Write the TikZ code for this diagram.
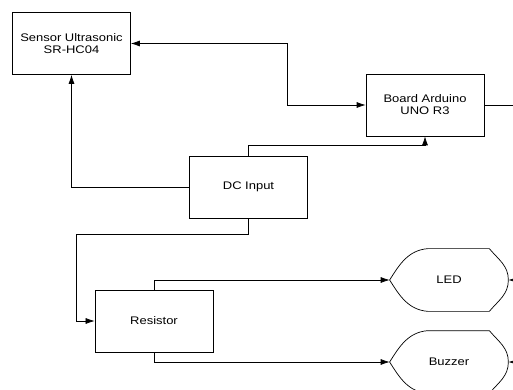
\documentclass[tikz,border=0pt]{standalone}
\usepackage{fontspec}
\setmainfont{Liberation Sans}[FakeStretch=1.18]
\usetikzlibrary{shapes,arrows.meta}
\tikzstyle{block} = [draw, fill=white, rectangle, minimum height=62pt, minimum width=118pt, align=center]
\tikzstyle{display} = [rectangle, minimum height=62pt, minimum width=118pt, align=center]
\providecommand{\dispoutline}[1]{%
  \draw ([xshift=38pt]#1.north west) -- ([xshift=-19pt]#1.north east)
    to[out=-50,in=90] (#1.east) to[out=-90,in=50] ([xshift=-19pt]#1.south east)
    -- ([xshift=38pt]#1.south west) to[out=175,in=-58] (#1.west) to[out=58,in=185] cycle;}
\begin{document}
\begin{tikzpicture}[auto, node distance=2.5cm, >={Latex[length=9pt,width=6pt]}, line width=0.7pt]
    \tikzset{font={\fontsize{11}{12}\selectfont}}
    \useasboundingbox (-248.5pt,-203pt) rectangle (264.5pt,187pt);
    \clip (-248.5pt,-203pt) rectangle (264.5pt,187pt);
    \node [block] (dc) {DC Input};
    \node [block, left of=dc, node distance=177pt, yshift=143.5pt] (sensor) {Sensor Ultrasonic\\ SR-HC04};
    \node [block, right of=dc, node distance=176.5pt, yshift=82pt] (board) {Board Arduino\\ UNO R3};
    \node [block, left of=dc, node distance=94.5pt, yshift=-134pt] (res) {Resistor};
      \node [display, right of=dc, node distance=200.5pt, yshift=-93pt] (led) {LED};
      \node [display, below of=led, node distance=82pt] (buzzer) {Buzzer};
      \dispoutline{led}
      \dispoutline{buzzer}
    % free ends past the right edge
    \coordinate [right of=board, node distance=100pt] (boardout);
    \coordinate [right of=led, node distance=80pt] (ledin);
    \coordinate [right of=buzzer, node distance=80pt] (buzzerin);
      \draw [<->] (sensor.east) -- ++(156pt,0) |- (board.west);
      \draw (board.east) -- (boardout);
      \draw [->] (dc.west) -| (sensor.south);
      \draw [->] (dc.north) -- ++(0,10pt) -| (board.south);
      \draw [->] (dc.south) -- ++(0,-16pt) -| ([xshift=-18pt]res.west) -- (res.west);
    \draw [->] (res.north) |- (led.west);
    \draw [->] (res.south) |- (buzzer.west);
    \draw [->] (ledin) -- (led.east);
    \draw [->] (buzzerin) -- (buzzer.east);
\end{tikzpicture}
\end{document}
